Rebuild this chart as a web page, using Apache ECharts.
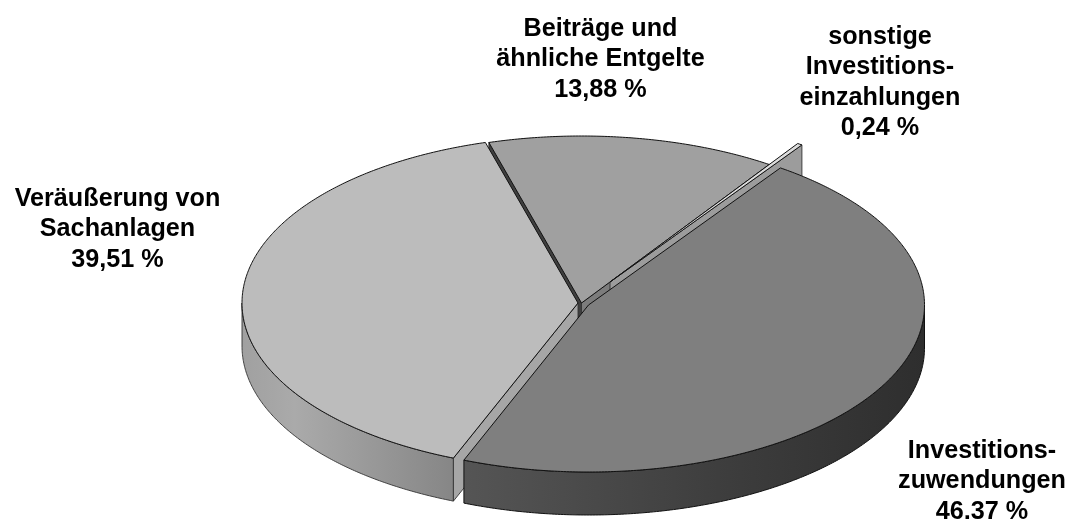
<!DOCTYPE html>
<html>
<head>
<meta charset="utf-8">
<style>html,body{margin:0;padding:0;background:#fff}#c{width:1071px;height:519px}</style>
<script src="https://cdn.jsdelivr.net/npm/echarts@6/dist/echarts.min.js"></script>
</head>
<body>
<div id="c"></div>
<script>
// Data, clockwise from the start angle
const categories = [
  ['Beiträge und', 'ähnliche Entgelte'],
  ['sonstige', 'Investitions-', 'einzahlungen'],
  ['Investitions-', 'zuwendungen'],
  ['Veräußerung von', 'Sachanlagen']
];
const shares = [13.88, 0.24, 46.37, 39.51];
const shareLabels = ['13,88 %', '0,24 %', '46,37 %', '39,51 %'];

// Layout and styling
const START = -16, RX = 336, RY = 167, DEPTH = 43;
const centres = [[581.5, 303], [610, 282], [588.5, 305], [578, 303]];
const labelPos = [[600.5, 36], [880, 44], [982, 458], [117.5, 206]];
const topFill = ['#a0a0a0', '#dcdcdc', '#7f7f7f', '#bcbcbc'];
const faceFill = ['#7c7c7c', '#9c9c9c', '#666666', '#a6a6a6'];
const paintOrder = [0, 1, 3, 2];

const chart = echarts.init(document.getElementById('c'), null, {renderer: 'canvas'});
const total = shares.reduce((a, b) => a + b, 0);
const startAngles = [];
shares.reduce((acc, v, i) => { startAngles[i] = acc; return acc + v / total * 360; }, START);

function pt(c, deg, dy) {
  const r = deg * Math.PI / 180;
  return [c[0] + RX * Math.sin(r), c[1] - RY * Math.cos(r) + (dy || 0)];
}
function arc(c, a, b, dy) {
  const pts = [], n = Math.max(2, Math.ceil(Math.abs(b - a) * 2));
  for (let i = 0; i <= n; i++) pts.push(pt(c, a + (b - a) * i / n, dy));
  return pts;
}
const edge = {stroke: '#111', lineWidth: 1};
const softEdge = {stroke: '#333', lineWidth: 0.9};

function wallFill(i) {
  if (i === 3) return new echarts.graphic.LinearGradient(0, 0, 1, 0, [
    {offset: 0, color: '#a0a0a0'}, {offset: 0.25, color: '#aaaaaa'}, {offset: 1, color: '#868686'}]);
  return new echarts.graphic.LinearGradient(0, 0, 1, 0, [
    {offset: 0, color: '#555555'}, {offset: 0.6, color: '#3c3c3c'}, {offset: 1, color: '#2e2e2e'}]);
}

function renderSlice(params, api) {
  const i = api.value(0);
  const a = startAngles[i], b = a + api.value(1) / total * 360, c = centres[i];
  const kids = [];
  const poly = (points, fill, line) => kids.push({
    type: 'polygon', shape: {points}, style: Object.assign({fill}, line)});

  if (i === 0) {
    poly([c, pt(c, a), pt(c, a, DEPTH), [c[0], c[1] + DEPTH]], '#3f3f3f', softEdge);
    poly([c, pt(c, b), pt(c, b, DEPTH), [c[0], c[1] + DEPTH]], faceFill[i], softEdge);
  }
  if (i === 1) {
    poly([c, pt(c, b), pt(c, b, DEPTH), [c[0], c[1] + DEPTH]], faceFill[i], softEdge);
  }
  if (i === 3) {
    poly(arc(c, a, 270).concat(arc(c, 270, a, DEPTH)), wallFill(i), softEdge);
    poly([c, pt(c, a), pt(c, a, DEPTH), [c[0], c[1] + DEPTH]], faceFill[i], softEdge);
  }
  if (i === 2) {
    poly(arc(c, 90, b).concat(arc(c, b, 90, DEPTH)), wallFill(i), edge);
  }
  poly([c].concat(arc(c, a, b)), topFill[i], edge);

  const lines = categories[i].concat([shareLabels[i]]);
  lines.forEach((t, k) => kids.push({
    type: 'text',
    style: {
      text: t, x: labelPos[i][0], y: labelPos[i][1] + k * 30.3 - 7,
      fill: '#000', font: 'bold 25.2px "Liberation Sans", Arial, sans-serif',
      align: 'center', verticalAlign: 'middle'
    }
  }));
  return {type: 'group', children: kids};
}

chart.setOption({
  animation: false,
  backgroundColor: '#ffffff',
  series: [{
    type: 'custom',
    coordinateSystem: 'none',
    silent: true,
    renderItem: renderSlice,
    data: paintOrder.map(i => [i, shares[i]])
  }]
});
</script>
</body>
</html>
